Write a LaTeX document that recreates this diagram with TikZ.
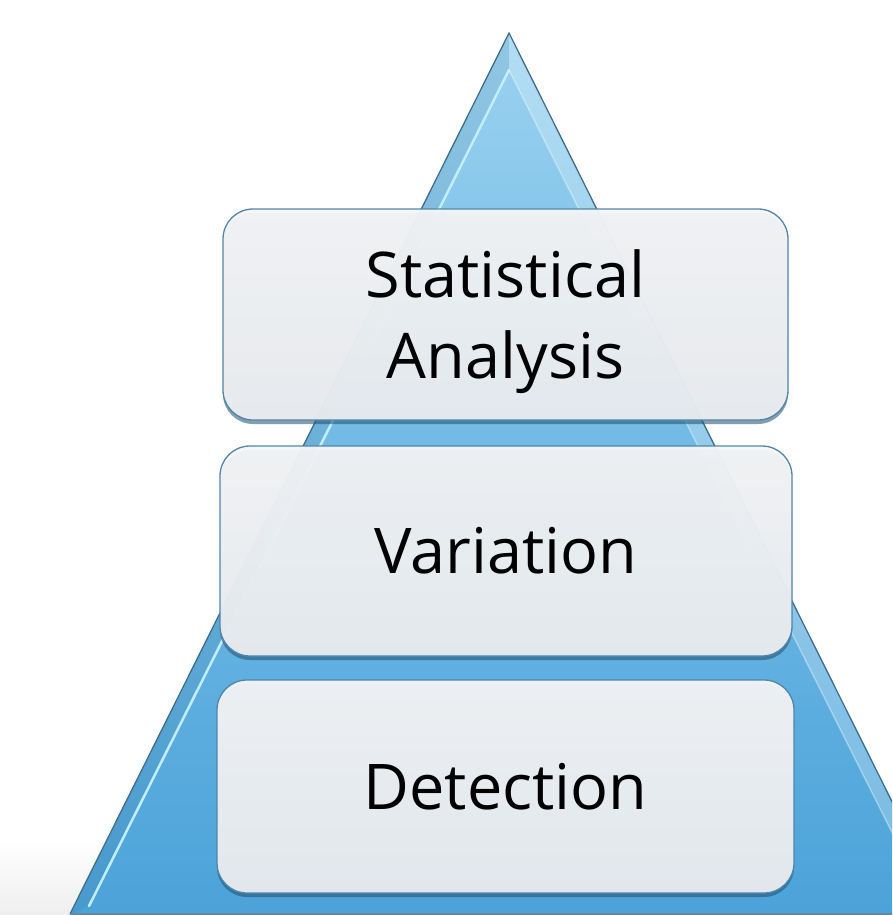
\documentclass[tikz,border=0pt]{standalone}
\usepackage{fontspec}
\setmainfont{Open Sans}
\usetikzlibrary{shadows}
\definecolor{tritop}{HTML}{9AD2F0}
\definecolor{trimid}{HTML}{6FB9E5}
\definecolor{tribot}{HTML}{4CA3D9}
\definecolor{triedge}{HTML}{3F6E8C}
\definecolor{bevel}{HTML}{C2EEFC}
\definecolor{boxtop}{HTML}{F6F6F7}
\definecolor{boxbot}{HTML}{EBEEF1}
\definecolor{boxedge}{HTML}{4F86AA}
\definecolor{shadowcol}{HTML}{1F4F70}
\definecolor{bandgray}{HTML}{EEEEEE}
\tikzset{
  layerbox/.style={draw=boxedge, line width=1.3pt, rounded corners=30pt,
    top color=boxtop, bottom color=boxbot, fill opacity=0.95, text opacity=1,
    align=center, inner sep=0pt, text=black,
    font=\fontsize{63}{81}\selectfont,
    drop shadow={shadow xshift=0pt, shadow yshift=-4pt, fill=shadowcol, opacity=0.55}},
}
\begin{document}
\begin{tikzpicture}[x=1pt,y=-1pt]
\useasboundingbox (0,0) rectangle (892,915);
\begin{scope}
\clip (0,0) rectangle (892,915);
% light band at the bottom
\fill[top color=white, bottom color=bandgray] (0,838) rectangle (892,915);
% pyramid
\coordinate (A) at (509,33);
\coordinate (L) at (70,914);
\coordinate (R) at (948,914);
\coordinate (Ai) at (509,70);
\coordinate (Li) at (89,906);
\coordinate (Ri) at (929,906);
\shade[top color=tritop, bottom color=tribot, middle color=trimid] (A) -- (R) -- (L) -- cycle;
\fill[white, opacity=0.25] (A) -- (R) -- (Ri) -- (Ai) -- cycle;
\fill[black, opacity=0.05] (A) -- (Ai) -- (Li) -- (L) -- cycle;
\draw[bevel, line width=2.5pt, line cap=round] (Ai) -- (Li);
\draw[white, opacity=0.35, line width=1.5pt] (Ai) -- (Ri);
\draw[triedge, line width=1.3pt, line join=miter] (L) -- (A) -- (R);
\draw[triedge!80, line width=1.5pt] (L) -- (R);
\end{scope}
% layers
\node[layerbox, minimum width=565pt, minimum height=211pt, text depth=0pt] (b1) at (505.5,314.5) {Statistical\\Analysis};
\node[layerbox, minimum width=572pt, minimum height=210pt] (b2) at (506,551) {Variation};
\node[layerbox, minimum width=577pt, minimum height=213pt] (b3) at (505.5,786.5) {Detection};
\end{tikzpicture}
\end{document}
